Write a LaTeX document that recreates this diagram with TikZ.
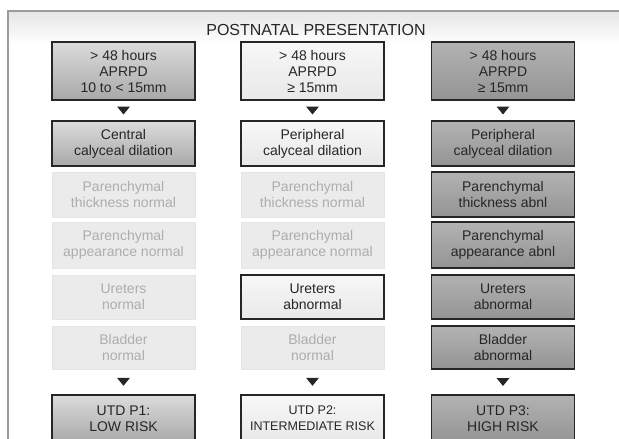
\documentclass[tikz,border=0pt]{standalone}
\usepackage{fontspec}
\setmainfont{Liberation Sans}
\usetikzlibrary{calc}

\definecolor{frameline}{HTML}{9C9C9C}
\definecolor{ink}{HTML}{262626}

\tikzset{
  box/.style={rectangle, minimum width=143pt, minimum height=45pt, inner sep=1pt, align=center,
    font=\fontsize{14}{16}\selectfont, text=ink},
  dark/.style={box, draw=ink, line width=1.7pt},
  low/.style={dark, top color=black!14, bottom color=black!34},
  mid/.style={dark, top color=black!3, bottom color=black!9},
  high/.style={dark, top color=black!30, bottom color=black!42},
  faded/.style={box, draw=black!10, fill=black!8, line width=0.8pt, text=black!32},
  tip/.style={fill=ink},
}
\newcommand\downtip[2]{\fill[tip] ($(#1.south)!0.5!(#2.north)$) ++(-6.5,-4) -- ++(13,0) -- ++(-6.5,8) -- cycle;}

\begin{document}
\begin{tikzpicture}[x=1pt,y=-1pt]
	\useasboundingbox (0,0) rectangle (619,439);
	\shade[top color=black!10, bottom color=white] (8,11) rectangle (619,44);
	\draw[frameline, line width=1.4pt] (8,439) -- (8,11) -- (619,11);
	\node[font=\fontsize{16}{18}\selectfont, text=ink] (title) at (316,30) {POSTNATAL PRESENTATION};

	% low risk
	\node[low, minimum height=58pt] (p1) at (123.5,71) {> 48 hours\\APRPD\\10 to < 15mm};
	\node[low] (p2) at (123.5,143.5) {Central\\calyceal dilation};
	\node[faded] (p3) at (123.5,194.5) {Parenchymal\\thickness normal};
	\node[faded, minimum height=46pt] (p4) at (123.5,245) {Parenchymal\\appearance normal};
	\node[faded, minimum height=44pt] (p5) at (123.5,297) {Ureters\\normal};
	\node[faded, minimum height=43pt] (p6) at (123.5,347.5) {Bladder\\normal};
	\node[low, minimum height=47pt] (p7) at (123.5,418.5) {UTD P1:\\LOW RISK};

	% intermediate risk
	\node[mid, minimum height=58pt] (q1) at (312.5,71) {> 48 hours\\APRPD\\≥ 15mm};
	\node[mid] (q2) at (312.5,143.5) {Peripheral\\calyceal dilation};
	\node[faded] (q3) at (312.5,194.5) {Parenchymal\\thickness normal};
	\node[faded, minimum height=46pt] (q4) at (312.5,245) {Parenchymal\\appearance normal};
	\node[mid, minimum height=44pt] (q5) at (312.5,297) {Ureters\\abnormal};
	\node[faded, minimum height=43pt] (q6) at (312.5,347.5) {Bladder\\normal};
	\node[mid, minimum height=47pt, font=\fontsize{12.5}{16}\selectfont] (q7) at (312.5,418.5) {UTD P2:\\INTERMEDIATE RISK};

	% high risk
	\node[high, minimum height=58pt] (r1) at (503,71) {> 48 hours\\APRPD\\≥ 15mm};
	\node[high] (r2) at (503,143.5) {Peripheral\\calyceal dilation};
	\node[high] (r3) at (503,194.5) {Parenchymal\\thickness abnl};
	\node[high, minimum height=46pt] (r4) at (503,245) {Parenchymal\\appearance abnl};
	\node[high, minimum height=44pt] (r5) at (503,297) {Ureters\\abnormal};
	\node[high, minimum height=43pt] (r6) at (503,347.5) {Bladder\\abnormal};
	\node[high, minimum height=47pt] (r7) at (503,418.5) {UTD P3:\\HIGH RISK};

	\downtip{p1}{p2}
	\downtip{q1}{q2}
	\downtip{r1}{r2}
	\downtip{p6}{p7}
	\downtip{q6}{q7}
	\downtip{r6}{r7}
\end{tikzpicture}
\end{document}
